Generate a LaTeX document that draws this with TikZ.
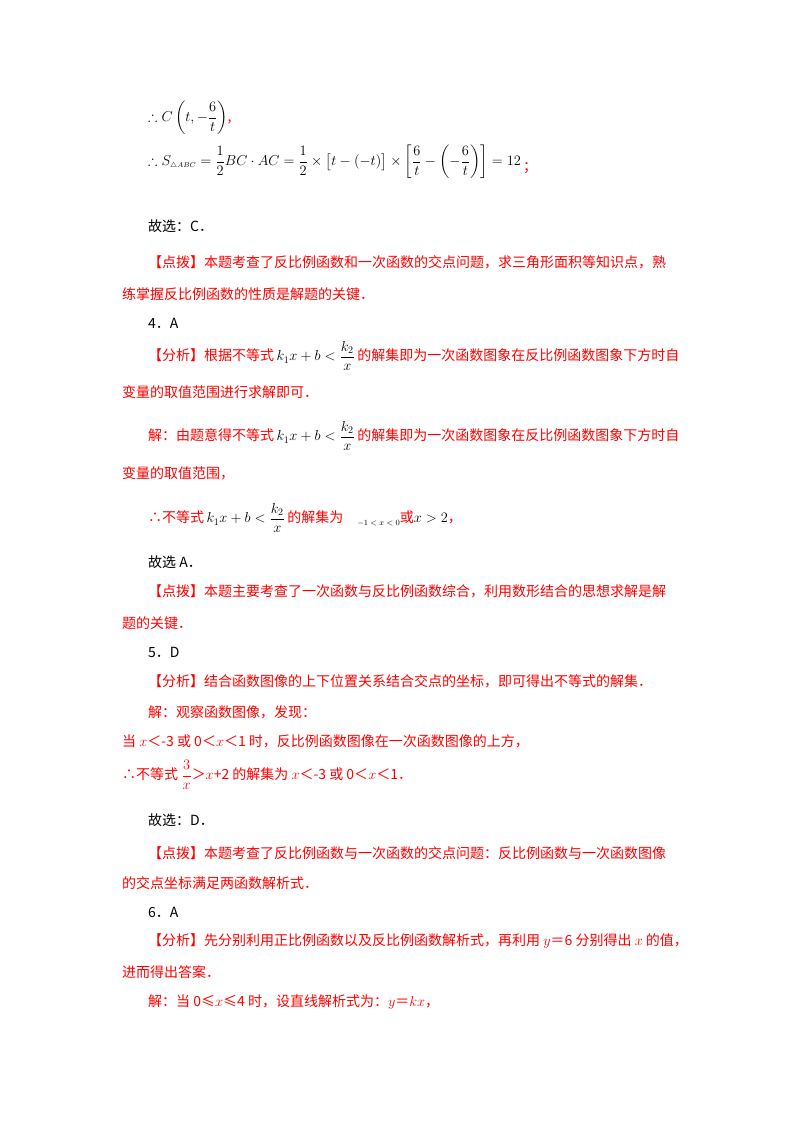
\documentclass[tikz,border=0pt]{standalone}
\usepackage{amsmath,amssymb}
\usepackage{fontspec}
\setmainfont{Liberation Serif}
\newfontfamily\cjk{Noto Sans CJK SC}
\definecolor{rd}{RGB}{255,0,0}
\tikzset{ln/.style={anchor=west,inner sep=0pt,font=\fontsize{14}{16}\selectfont\cjk},
 rl/.style={ln,text=rd}}
\begin{document}
\begin{tikzpicture}[x=1pt,y=-1pt]
\useasboundingbox (0,0) rectangle (800,1132);
\node[ln] (l1) at (148,118) {$\therefore C\left(t,-\dfrac{6}{t}\right)${\color{rd},}};
\node[ln] (l2) at (148,162) {$\therefore S_{\scriptscriptstyle\triangle ABC}=\dfrac12 BC\cdot AC=\dfrac12\times\bigl[t-(-t)\bigr]\times\left[\dfrac6t-\left(-\dfrac6t\right)\right]=12$\,\raisebox{-6pt}{\color{rd}；}};
\node[ln] (l3) at (148,226) {故选：C．};
\node[rl] (l4) at (148,262) {【点拨】本题考查了反比例函数和一次函数的交点问题，求三角形面积等知识点，熟};
\node[rl] (l5) at (122,294) {练掌握反比例函数的性质是解题的关键．};
\node[ln] (l6) at (148,323) {4．A};
\node[rl] (l7) at (148,356) {【分析】根据不等式\,{\color{black}$k_1x+b<\dfrac{k_2}{x}$}\,的解集即为一次函数图象在反比例函数图象下方时自};
\node[rl] (l8) at (122,392) {变量的取值范围进行求解即可．};
\node[rl] (l9) at (148,436) {解：由题意得不等式\,{\color{black}$k_1x+b<\dfrac{k_2}{x}$}\,的解集即为一次函数图象在反比例函数图象下方时自};
\node[rl] (l10) at (122,473) {变量的取值范围，};
\node[rl] (l11) at (148,518) {∴不等式\,{\color{black}$k_1x+b<\dfrac{k_2}{x}$}\,的解集为\quad{\color{black}\raisebox{-3pt}{\footnotesize$-1<x<0$}}或{\color{black}$x>2$}，};
\node[ln] (l12) at (148,562) {故选 A．};
\node[rl] (l13) at (148,591) {【点拨】本题主要考查了一次函数与反比例函数综合，利用数形结合的思想求解是解};
\node[rl] (l14) at (122,623) {题的关键．};
\node[ln] (l15) at (148,652) {5．D};
\node[rl] (l16) at (148,681) {【分析】结合函数图像的上下位置关系结合交点的坐标，即可得出不等式的解集．};
\node[rl] (l17) at (148,712) {解：观察函数图像，发现：};
\node[rl] (l18) at (122,741) {当 $x$＜-3 或 0＜$x$＜1 时，反比例函数图像在一次函数图像的上方，};
\node[rl] (l19) at (122,775) {∴不等式 $\dfrac{3}{x}$＞$x$+2 的解集为 $x$＜-3 或 0＜$x$＜1．};
\node[ln] (l20) at (148,820) {故选：D．};
\node[rl] (l21) at (148,853) {【点拨】本题考查了反比例函数与一次函数的交点问题：反比例函数与一次函数图像};
\node[rl] (l22) at (122,883) {的交点坐标满足两函数解析式．};
\node[ln] (l23) at (148,912) {6．A};
\node[rl] (l24) at (148,941) {【分析】先分别利用正比例函数以及反比例函数解析式，再利用 $y$＝6 分别得出 $x$ 的值，};
\node[rl] (l25) at (122,972) {进而得出答案．};
\node[rl] (l26) at (148,1002) {解：当 0≤$x$≤4 时，设直线解析式为：$y$＝$kx$，};
\end{tikzpicture}
\end{document}
